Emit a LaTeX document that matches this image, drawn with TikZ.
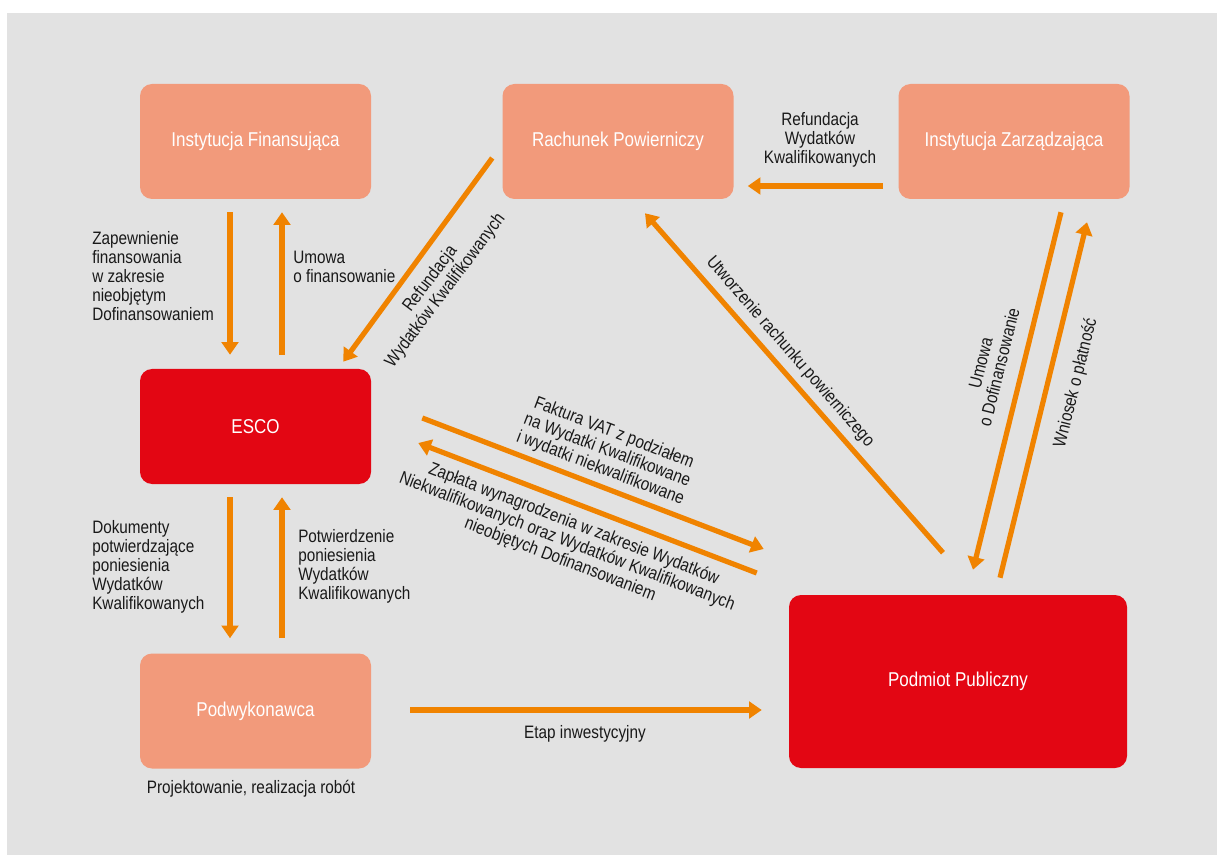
\documentclass[tikz,border=0pt]{standalone}
\usepackage{fontspec}
\setmainfont{Liberation Sans}[FakeStretch=0.85]
\usetikzlibrary{arrows.meta,calc}
\definecolor{tlo}{HTML}{E2E2E2}
\definecolor{losos}{HTML}{F29A7B}
\definecolor{czerwony}{HTML}{E30613}
\definecolor{pomarancz}{HTML}{F08300}
\tikzset{
	box/.style={rectangle,rounded corners=9pt,fill=losos,text=white,minimum width=173.25pt,minimum height=86.25pt,font=\fontsize{15}{17}\selectfont},
	rbox/.style={box,fill=czerwony},
	arr/.style={draw=pomarancz,line width=3.9pt,-{Triangle[length=9.5pt,width=12.5pt]}},
	lbl/.style={text=black!90,font=\fontsize{13.5}{14.25}\selectfont,inner sep=0pt}
}
\begin{document}
\begin{tikzpicture}[x=0.75pt,y=-0.75pt]
	\useasboundingbox (0,0) rectangle (1217,855);
	\fill[white] (0,0) rectangle (1217,855);
	\fill[tlo] (7,13) rectangle (1217,855);

	% uczestnicy
	\node [box] (IF) at (255.5,141.5) {Instytucja Finansująca};
	\node [box] (RP) at (618,141.5) {Rachunek Powierniczy};
	\node [box] (IZ) at (1014,141.5) {Instytucja Zarządzająca};
	\node [rbox] (ESCO) at (255.5,426.5) {ESCO};
	\node [box] (PW) at (255.5,711) {Podwykonawca};
	\node [rbox,minimum width=253.5pt,minimum height=129.75pt] (PP) at (958,681.5) {Podmiot Publiczny};

	% przeplywy
	\draw [arr] ($(IF.south)+(-25.5,13)$) -- ($(ESCO.north)+(-25.5,-14)$);
	\draw [arr] ($(ESCO.north)+(26.5,-14)$) -- ($(IF.south)+(26.5,13)$);
	\draw [arr] ($(ESCO.south)+(-25.5,13)$) -- ($(PW.north)+(-25.5,-15)$);
	\draw [arr] ($(PW.north)+(26.5,-15)$) -- ($(ESCO.south)+(26.5,13)$);
	\draw [arr] ($(RP.west)+(-10,16.5)$) -- ($(ESCO.north east)+(-28,-7)$);
	\draw [arr] ($(IZ.west)+(-15,44.5)$) -- ($(RP.east)+(14,44.5)$);
	\draw [arr] ($(PP.north)+(-15,-42)$) -- ($(RP.south)+(27,14)$);
	\draw [arr] ($(ESCO.east)+(51,-8.5)$) -- ($(PP.west)+(-25,-132.5)$);
	\draw [arr] ($(PP.west)+(-32,-108.5)$) -- ($(ESCO.east)+(47,16.5)$);
	\draw [arr] ($(IZ.south)+(47,13)$) -- ($(PP.north)+(15,-25)$);
	\draw [arr] ($(PP.north)+(42,-17)$) -- ($(IZ.south)+(73,23)$);
	\draw [arr] ($(PW.east)+(39,-1)$) -- ($(PP.west)+(-27,28.5)$);

	% opisy
	\node [lbl,anchor=west,align=left] (zapLbl) at (92,276) {Zapewnienie\\finansowania\\w zakresie\\nieobjętym\\Dofinansowaniem};
	\node [lbl,anchor=west,align=left] (umfLbl) at (293,267) {Umowa\\o finansowanie};
	\node [lbl,anchor=west,align=left] (dokLbl) at (92,567) {Dokumenty\\potwierdzające\\poniesienia\\Wydatków\\Kwalifikowanych};
	\node [lbl,anchor=west,align=left] (potLbl) at (298,566) {Potwierdzenie\\poniesienia\\Wydatków\\Kwalifikowanych};
	\node [lbl,align=center] (refLbl) at (820,140) {Refundacja\\Wydatków\\Kwalifikowanych};
	\node [lbl,align=center,rotate=53] (refLbl2) at (438,285) {Refundacja\\Wydatków Kwalifikowanych};
	\node [lbl,rotate=-49] (utwLbl) at (790,352) {Utworzenie rachunku powierniczego};
	\node [lbl,align=center,rotate=-21] (fakLbl) at (607,451) {Faktura VAT z podziałem\\na Wydatki Kwalifikowane\\i wydatki niekwalifikowane};
	\node [lbl,align=center,rotate=-21] (zplLbl) at (567,542) {Zapłata wynagrodzenia w zakresie Wydatków\\Niekwalifikowanych oraz Wydatków Kwalifikowanych\\nieobjętych Dofinansowaniem};
	\node [lbl,align=center,rotate=76] (umdLbl) at (990,365) {Umowa\\o Dofinansowanie};
	\node [lbl,rotate=76] (wnLbl) at (1076,383) {Wniosek o płatność};
	\node [lbl] (etLbl) at (585,734) {Etap inwestycyjny};
	\node [lbl] (prLbl) at (251,789) {Projektowanie, realizacja robót};
\end{tikzpicture}
\end{document}
